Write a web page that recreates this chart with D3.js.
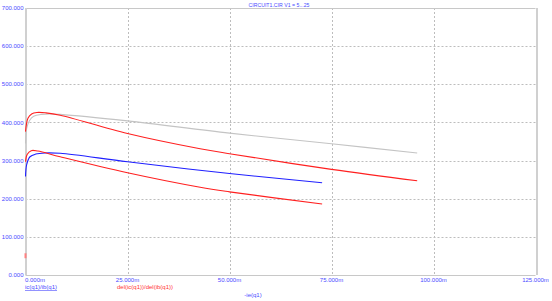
<!DOCTYPE html>
<html><head><meta charset="utf-8">
<script src="https://cdn.jsdelivr.net/npm/d3@7"></script>
<style>body{margin:0;background:#fff}svg{display:block;font-family:"Liberation Sans",Arial,sans-serif}</style>
</head><body><svg id="c" width="552" height="301"></svg>
<script>
// x values in mA (-ie(q1)), y values = gain
const xTicks = [0, 25, 50, 75, 100, 125];
const yTicks = [0, 100, 200, 300, 400, 500, 600, 700];
const title = "CIRCUIT1.CIR V1 = 5...25";
const xTitle = "-ie(q1)";
const legendIcIb = "ic(q1)/ib(q1)";
const legendDel = "del(ic(q1))/del(ib(q1))";

// ic/ib, V1 = 25 (grey)
const icibHigh = [[0,345],[0.3,385],[1,405],[2,416],[4,421],[6,422],[8.5,421],[25,404],[50,372],[75,344],[96,320]];
// del(ic)/del(ib), V1 = 25 (red)
const delHigh = [[0,376],[0.6,411],[1.5,422],[2.8,426],[5,425],[8.5,419],[25,371],[42.8,331],[50,318],[75,277],[96,247]];
// ic/ib, V1 = 5 (blue)
const icibLow = [[0,258],[0.3,290],[1.1,310],[2.5,317],[4.8,320],[8.5,319],[25,297],[50,266],[72.7,242]];
// del(ic)/del(ib), V1 = 5 (red)
const delLow = [[0,297],[0.4,316],[1.4,326],[3,325],[8.5,310],[25,268],[42.8,230],[50,218],[72.7,186]];
// first derivative sample at zero current
const delFirst = [[0,44],[0,57]];

const svg = d3.select("#c");
const x = d3.scaleLinear().domain([0,125]).range([25.5,535.5]);
const y = d3.scaleLinear().domain([0,700]).range([275,8]);
const px = v => Math.round(v) + 0.5;
const blueTxt = "#4a4aff", redTxt = "#ff3333";

// grid
svg.append("g").selectAll("line").data(yTicks.filter(d=>d>0&&d<700)).join("line")
  .attr("x1",x(0)).attr("x2",x(125)).attr("y1",d=>px(y(d))).attr("y2",d=>px(y(d)))
  .attr("stroke","#bdbdbd").attr("stroke-dasharray","2,2").attr("stroke-width",1);
svg.append("g").selectAll("line").data(xTicks.filter(d=>d>0&&d<125)).join("line")
  .attr("x1",d=>px(x(d))).attr("x2",d=>px(x(d))).attr("y1",y(700)).attr("y2",y(0))
  .attr("stroke","#bdbdbd").attr("stroke-dasharray","2,2").attr("stroke-width",1);

// frame
svg.append("line").attr("x1",x(0)).attr("x2",x(125)).attr("y1",px(y(700))).attr("y2",px(y(700))).attr("stroke","#c8c8c8");
svg.append("line").attr("x1",x(0)).attr("x2",x(125)).attr("y1",px(y(0))).attr("y2",px(y(0))).attr("stroke","#c8c8c8");
svg.append("line").attr("x1",Math.round(x(0))).attr("x2",Math.round(x(0))).attr("y1",y(700)).attr("y2",y(0)).attr("stroke","#d0d0d0").attr("stroke-width",2);
svg.append("line").attr("x1",Math.round(x(125))+1).attr("x2",Math.round(x(125))+1).attr("y1",y(700)).attr("y2",y(0)).attr("stroke","#d0d0d0").attr("stroke-width",2);

// curves
const line = d3.line().x(d=>x(d[0])).y(d=>y(d[1])).curve(d3.curveCatmullRom.alpha(0.5));
const series = [[icibHigh,"#c4c4c4"],[delHigh,"#ff2020"],[icibLow,"#2020ff"],[delLow,"#ff2020"]];
series.forEach(([d,c])=>svg.append("path").datum(d).attr("d",line).attr("fill","none").attr("stroke",c).attr("stroke-width",1.1));
svg.append("path").datum(delFirst).attr("d",d3.line().x(d=>x(d[0])).y(d=>y(d[1])))
  .attr("fill","none").attr("stroke","#ff8080").attr("stroke-width",2);

// y tick labels
svg.append("g").selectAll("text").data(yTicks).join("text")
  .attr("x",23.5).attr("y",d=>y(d)).attr("dy","0.35em").attr("text-anchor","end")
  .attr("font-size",6).attr("fill",blueTxt).text(d=>d3.format(".3f")(d));
// x tick labels
svg.append("g").selectAll("text").data(xTicks).join("text")
  .attr("x",d=>d===0?x(d)-0.5:x(d)).attr("y",282).attr("text-anchor",d=>d===0?"start":"middle")
  .attr("font-size",6).attr("fill",blueTxt).text(d=>d3.format(".3f")(d)+"m");

// legend / titles
svg.append("text").attr("x",25).attr("y",289).attr("font-size",6).attr("fill",blueTxt)
  .attr("text-decoration","underline").text(legendIcIb);
svg.append("text").attr("x",145).attr("y",289).attr("text-anchor","middle").attr("font-size",6).attr("fill",redTxt).text(legendDel);
svg.append("text").attr("x",253).attr("y",296.5).attr("text-anchor","middle").attr("font-size",6).attr("fill",blueTxt).text(xTitle);
svg.append("text").attr("x",279).attr("y",6.5).attr("text-anchor","middle").attr("font-size",5.2).attr("fill",blueTxt).text(title);
</script></body></html>
